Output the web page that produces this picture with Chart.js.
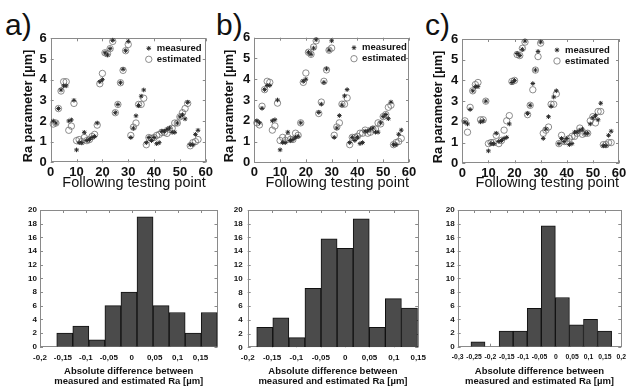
<!DOCTYPE html>
<html>
<head>
<meta charset="utf-8">
<script src="https://cdn.jsdelivr.net/npm/chart.js@4/dist/chart.umd.min.js"></script>
<style>
  body { margin: 0; background: #fff; width: 632px; height: 386px; position: relative; overflow: hidden; font-family: "Liberation Sans", Arial, sans-serif; }
  canvas { position: absolute; }
  .tag { position: absolute; font-size: 30px; line-height: 30px; color: #111; }
</style>
</head>
<body>
<div class="tag" style="left:5px;top:10px">a)</div>
<div class="tag" style="left:216px;top:10px">b)</div>
<div class="tag" style="left:425px;top:10px">c)</div>

<canvas id="sa" width="215" height="200" style="left:0;top:0"></canvas>
<canvas id="sb" width="215" height="200" style="left:215px;top:0"></canvas>
<canvas id="sc" width="202" height="200" style="left:430px;top:0"></canvas>
<canvas id="ha" width="220" height="186" style="left:0;top:200px"></canvas>
<canvas id="hb" width="212" height="186" style="left:220px;top:200px"></canvas>
<canvas id="hc" width="200" height="186" style="left:432px;top:200px"></canvas>

<script>
// test points 1..57
const testPoint = [1,2,3,4,5,6,7,8,9,10,11,12,13,14,15,16,17,18,19,20,21,22,23,24,25,26,27,28,29,30,
  31,32,33,34,35,36,37,38,39,40,41,42,43,44,45,46,47,48,49,50,51,52,53,54,55,56,57];

const measured = [2.0,1.9,2.6,3.5,3.7,3.7,2.0,2.05,3.0,0.6,0.95,0.95,1.45,1.05,1.1,1.2,1.25,1.9,3.9,4.0,
  5.3,5.2,5.5,5.9,2.4,2.8,3.85,4.5,5.4,5.85,1.2,1.65,2.25,2.75,3.2,3.5,0.95,1.2,1.05,1.2,
  0.9,0.95,1.5,1.5,1.6,1.65,1.45,1.45,1.9,2.2,2.3,2.1,2.9,0.85,0.85,1.35,1.55];

const estimatedA = [1.85,1.9,2.6,3.45,3.9,3.9,1.55,1.75,2.85,1.05,1.1,1.0,1.2,1.05,1.1,1.25,1.35,1.8,3.8,4.3,
  5.3,5.25,5.5,5.85,2.4,2.8,3.85,4.45,5.4,5.7,1.3,1.7,1.9,2.8,2.8,3.1,0.85,1.2,1.15,1.2,
  1.3,1.35,1.45,1.45,1.4,1.6,1.65,1.9,1.9,2.2,2.4,2.6,2.85,0.8,0.95,1.0,1.1];

const estimatedB = [1.9,1.8,2.7,3.5,3.9,3.85,1.55,1.75,2.85,1.05,1.2,1.05,1.2,1.1,1.1,1.4,1.3,1.9,3.85,4.3,
  5.3,5.2,5.55,5.85,2.35,2.9,3.9,4.45,5.4,5.5,1.3,1.7,1.9,2.8,2.8,3.1,0.85,1.2,1.2,1.25,
  1.4,1.4,1.55,1.4,1.45,1.6,1.6,1.9,1.85,2.2,2.3,2.65,2.75,0.85,0.95,1.0,1.15];

const estimatedC = [2.05,1.5,2.7,3.5,3.8,3.9,2.1,2.1,3.0,0.95,1.0,1.0,1.35,0.95,1.1,1.6,2.05,2.3,3.95,4.0,
  5.25,5.2,5.55,5.85,2.35,2.8,3.55,4.5,5.15,5.8,1.45,1.6,1.75,2.85,2.85,3.35,0.95,1.35,1.05,1.05,
  1.2,1.3,1.3,1.45,1.7,1.4,1.45,1.45,2.05,2.25,1.95,2.5,2.5,0.9,0.9,1.0,1.0];

// histogram bins (centre of each bar) and counts
const binsA = [-0.146,-0.111,-0.076,-0.041,-0.006,0.029,0.064,0.099,0.134,0.169];
const countsA = [2,3,1,6,8,19,6,5,2,5];
const binsB = [-0.165,-0.132,-0.099,-0.066,-0.033,0,0.033,0.066,0.099,0.132];
const countsB = [2.9,4.3,1.4,8.6,15.8,14.4,18.7,2.9,7.1,5.7];
const binsC = [-0.238,-0.195,-0.152,-0.109,-0.066,-0.023,0.020,0.063,0.106,0.149];
const countsC = [0.7,null,2.3,2.3,5.6,17.7,7.2,3.2,4.0,2.3];

const scatterXTicks = [0,10,20,30,40,50,60];
const scatterYTicks = [0,1,2,3,4,5,6];
const histYTicks = [0,2,4,6,8,10,12,14,16,18,20];
const histXTicksAB = [-0.2,-0.15,-0.1,-0.05,0,0.05,0.1,0.15];
const histXTicksC = [-0.3,-0.25,-0.2,-0.15,-0.1,-0.05,0,0.05,0.1,0.15,0.2];

const FONT = '"Liberation Sans", Arial, sans-serif';
Chart.defaults.font.family = FONT;
Chart.defaults.color = '#111';

const setTicks = list => scale => { scale.ticks = list.map(v => ({ value: v })); };
const commaLabel = v => String(+(+v).toFixed(2)).replace('.', ',');
const noGrid = { display: false, drawTicks: false };

// grey frame round the plot area with small inward tick marks
const framePlugin = {
  id: 'frame',
  beforeDatasetsDraw(chart) {
    const { ctx, chartArea: a, scales: { x, y } } = chart;
    ctx.save();
    ctx.strokeStyle = '#8a8a8a';
    ctx.lineWidth = 1;
    ctx.strokeRect(Math.round(a.left) + 0.5, Math.round(a.top) + 0.5,
      Math.round(a.right - a.left) - 1, Math.round(a.bottom - a.top) - 1);
    ctx.beginPath();
    x.ticks.forEach(t => {
      const px = Math.round(x.getPixelForValue(t.value)) + 0.5;
      ctx.moveTo(px, a.top); ctx.lineTo(px, a.top + 3);
      ctx.moveTo(px, a.bottom); ctx.lineTo(px, a.bottom - 3);
    });
    y.ticks.forEach(t => {
      const py = Math.round(y.getPixelForValue(t.value)) + 0.5;
      ctx.moveTo(a.left, py); ctx.lineTo(a.left + 3, py);
      ctx.moveTo(a.right, py); ctx.lineTo(a.right - 3, py);
    });
    ctx.stroke();
    ctx.restore();
  }
};

function cornerLegend(offX, offY) {
  return {
    id: 'cornerLegend',
    afterDraw(chart) {
      const { ctx, chartArea: a } = chart;
      chart.data.datasets.forEach((ds, i) => {
        const mx = a.right - offX, my = a.top + offY + i * 11;
        ctx.save();
        ctx.strokeStyle = ds.borderColor;
        ctx.fillStyle = ds.backgroundColor;
        ctx.lineWidth = ds.borderWidth;
        Chart.helpers.drawPoint(ctx, { pointStyle: ds.pointStyle, radius: ds.pointRadius, rotation: 0, borderWidth: ds.borderWidth }, mx, my);
        ctx.fillStyle = '#111';
        ctx.font = 'bold 9.5px ' + FONT;
        ctx.textBaseline = 'middle';
        ctx.fillText(ds.label, mx + 8, my);
        ctx.restore();
      });
    }
  };
}

function drawScatter(id, estimated, p) {
  new Chart(document.getElementById(id), {
    type: 'scatter',
    data: {
      datasets: [{
        label: 'measured',
        data: testPoint.map((t, i) => ({ x: t, y: measured[i] })),
        pointStyle: 'star', pointRadius: 2.3, borderWidth: 1,
        borderColor: '#2a2a2a', backgroundColor: '#2a2a2a', clip: false
      }, {
        label: 'estimated',
        data: testPoint.map((t, i) => ({ x: t, y: estimated[i] })),
        pointStyle: 'circle', pointRadius: 3.2, borderWidth: 0.8,
        borderColor: '#707070', backgroundColor: 'rgba(0,0,0,0)', clip: false
      }]
    },
    options: {
      responsive: false,
      animation: false,
      layout: { padding: { left: p.padLeft, right: p.padRight, top: p.padTop, bottom: 0 } },
      plugins: { legend: { display: false }, tooltip: { enabled: false } },
      scales: {
        x: {
          type: 'linear', min: 0, max: 60,
          afterBuildTicks: setTicks(scatterXTicks),
          afterFit: s => { s.height = p.xAxisH; },
          grid: noGrid, border: { display: false },
          ticks: { font: { size: 13, weight: 'bold' }, padding: 2, maxRotation: 0, autoSkip: false },
          title: { display: true, text: 'Following testing point', align: 'end', font: { size: 14.5 }, padding: { top: 0, bottom: 8 } }
        },
        y: {
          min: 0, max: 6,
          afterBuildTicks: setTicks(scatterYTicks),
          afterFit: s => { s.width = p.yAxisW; },
          grid: noGrid, border: { display: false },
          ticks: { font: { size: 13, weight: 'bold' }, padding: 4 },
          title: { display: true, text: 'Ra parameter [µm]', align: 'start', font: { size: 12.8, weight: 'bold' }, padding: 0 }
        }
      }
    },
    plugins: [framePlugin, cornerLegend(p.legX, p.legY)]
  });
}

function drawHist(id, bins, counts, xTicks, p) {
  new Chart(document.getElementById(id), {
    type: 'bar',
    data: {
      datasets: [{
        data: bins.map((b, i) => ({ x: b, y: counts[i] })),
        backgroundColor: '#4b4b4b', borderColor: '#111', borderWidth: 1,
        barPercentage: 1, categoryPercentage: 1
      }]
    },
    options: {
      responsive: false,
      animation: false,
      layout: { padding: { left: p.padLeft, right: p.padRight, top: p.padTop, bottom: 0 } },
      plugins: { legend: { display: false }, tooltip: { enabled: false } },
      scales: {
        x: {
          type: 'linear', min: p.xMin, max: p.xMax, offset: false,
          afterBuildTicks: setTicks(xTicks),
          afterFit: s => { s.height = p.xAxisH; },
          grid: noGrid, border: { display: false },
          ticks: { font: { size: p.xFont, weight: 'bold' }, padding: 6, maxRotation: 0, autoSkip: false, callback: commaLabel },
          title: {
            display: true,
            text: ['Absolute difference between', 'measured and estimated Ra [µm]'],
            font: { size: 9.5, weight: 'bold', lineHeight: 1.05 }, padding: { top: 0, bottom: 0 }
          }
        },
        y: {
          min: 0, max: 20,
          afterBuildTicks: setTicks(histYTicks),
          afterFit: s => { s.width = p.yAxisW; },
          grid: noGrid, border: { display: false },
          ticks: { font: { size: 8, weight: 'bold' }, padding: p.yPad }
        }
      }
    },
    plugins: [framePlugin]
  });
}

drawScatter('sa', estimatedA, { padLeft: 21, yAxisW: 29.7, padTop: 38.3, padRight: 8.3, xAxisH: 37.7, legX: 57, legY: 10 });
drawScatter('sb', estimatedB, { padLeft: 6.3, yAxisW: 33, padTop: 37.7, padRight: 21, xAxisH: 37.7, legX: 55, legY: 10 });
drawScatter('sc', estimatedC, { padLeft: 0.6, yAxisW: 31.7, padTop: 39, padRight: 13, xAxisH: 36.7, legX: 62, legY: 11 });

drawHist('ha', binsA, countsA, histXTicksAB, { padLeft: 0, yAxisW: 40, padTop: 10, padRight: 2.5, xAxisH: 39.3, yPad: 3, xMin: -0.2, xMax: 0.187, xFont: 8 });
drawHist('hb', binsB, countsB, histXTicksAB, { padLeft: 0, yAxisW: 27.7, padTop: 10, padRight: 10.3, xAxisH: 38.7, yPad: 5, xMin: -0.2, xMax: 0.15, xFont: 8 });
drawHist('hc', binsC, countsC, histXTicksC, { padLeft: 0, yAxisW: 25.7, padTop: 10, padRight: 1, xAxisH: 39.3, yPad: 3, xMin: -0.3, xMax: 0.2, xFont: 6.8 });
</script>
</body>
</html>
